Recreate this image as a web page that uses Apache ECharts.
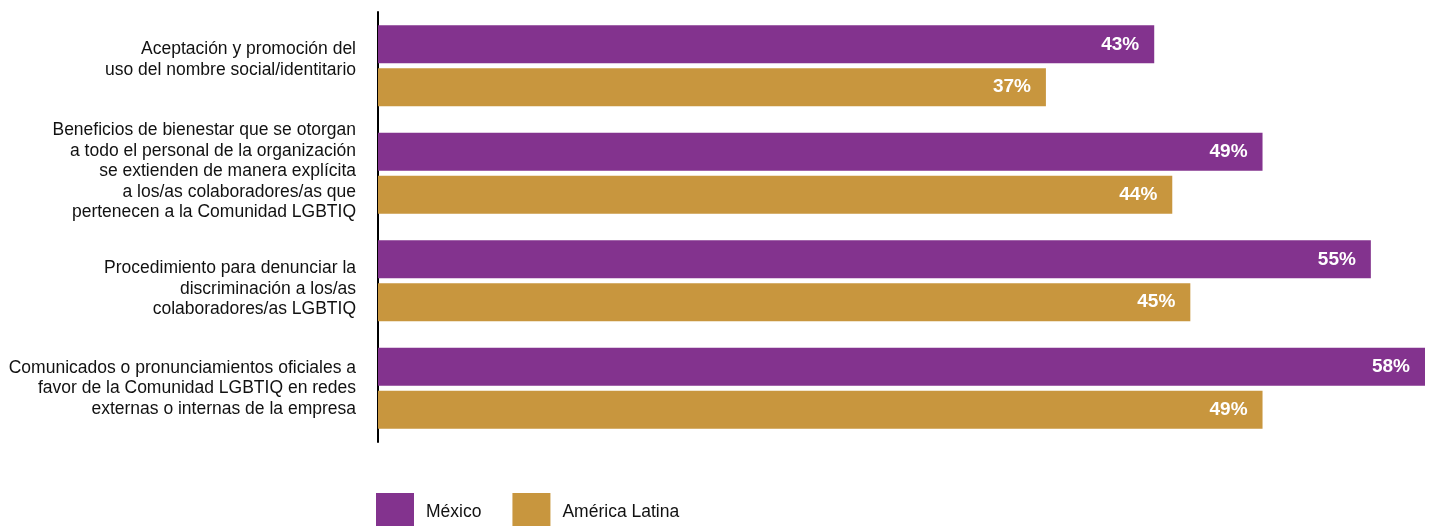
<!DOCTYPE html>
<html>
<head>
<meta charset="utf-8">
<script src="https://cdn.jsdelivr.net/npm/echarts@6/dist/echarts.min.js"></script>
<style>
  html, body { margin: 0; padding: 0; background: #fff; }
  #chart { width: 1431px; height: 526px; }
</style>
</head>
<body>
<div id="chart"></div>
<script>
const categories = [
  'Aceptación y promoción del\nuso del nombre social/identitario',
  'Beneficios de bienestar que se otorgan\na todo el personal de la organización\nse extienden de manera explícita\na los/as colaboradores/as que\npertenecen a la Comunidad LGBTIQ',
  'Procedimiento para denunciar la\ndiscriminación a los/as\ncolaboradores/as LGBTIQ',
  'Comunicados o pronunciamientos oficiales a\nfavor de la Comunidad LGBTIQ en redes\nexternas o internas de la empresa'
]
const mexico = [43, 49, 55, 58]
const latam = [37, 44, 45, 49]
const seriesNames = ['México', 'América Latina']
const colors = ['#83338e', '#c8963e']

// vertical nudge (px) of each category label, as in the original layout
const labelShift = [-6, -2, 8, 0]

const chart = echarts.init(document.getElementById('chart'))

const font = 'Liberation Sans, Arial, sans-serif'

const barLabel = {
  show: true,
  position: 'insideRight',
  distance: 15,
  color: '#fff',
  fontFamily: font,
  fontWeight: 'bold',
  fontSize: 19,
  formatter: '{c}%'
}

// spacer line styles for the nudges
const rich = { t: { fontFamily: font, fontSize: 17.5, lineHeight: 20.5, color: '#111', align: 'right' } }
labelShift.forEach((s, i) => {
  if (s) rich['s' + i] = { fontSize: 1, lineHeight: Math.abs(s) * 2 }
})

const formatLabel = function (value, i) {
  const lines = value.split('\n').map(l => `{t|${l}}`)
  const s = labelShift[i]
  if (s < 0) lines.push(`{s${i}| }`)
  if (s > 0) lines.unshift(`{s${i}| }`)
  return lines.join('\n')
}

chart.setOption({
  animation: false,
  color: colors,
  grid: { left: 378, right: 6, top: 12, height: 430 },
  legend: {
    left: 376,
    top: 493,
    padding: 0,
    itemWidth: 38,
    itemHeight: 38,
    itemGap: 31,
    icon: 'rect',
    textStyle: {
      fontFamily: font,
      fontSize: 17.5,
      color: '#111',
      padding: [4, 0, 0, 7]
    },
    data: seriesNames
  },
  xAxis: {
    type: 'value',
    min: 0,
    max: 58,
    show: false
  },
  yAxis: {
    type: 'category',
    inverse: true,
    data: categories,
    axisLine: { lineStyle: { color: '#000', width: 2 } },
    axisTick: { show: false },
    axisLabel: {
      margin: 22,
      fontFamily: font,
      fontSize: 17.5,
      lineHeight: 20.5,
      color: '#111',
      align: 'right',
      formatter: formatLabel,
      rich
    }
  },
  series: [
    {
      name: seriesNames[0],
      type: 'bar',
      barWidth: 38,
      barGap: '13%',
      data: mexico,
      label: barLabel
    },
    {
      name: seriesNames[1],
      type: 'bar',
      barWidth: 38,
      data: latam,
      label: barLabel
    }
  ]
})
</script>
</body>
</html>
